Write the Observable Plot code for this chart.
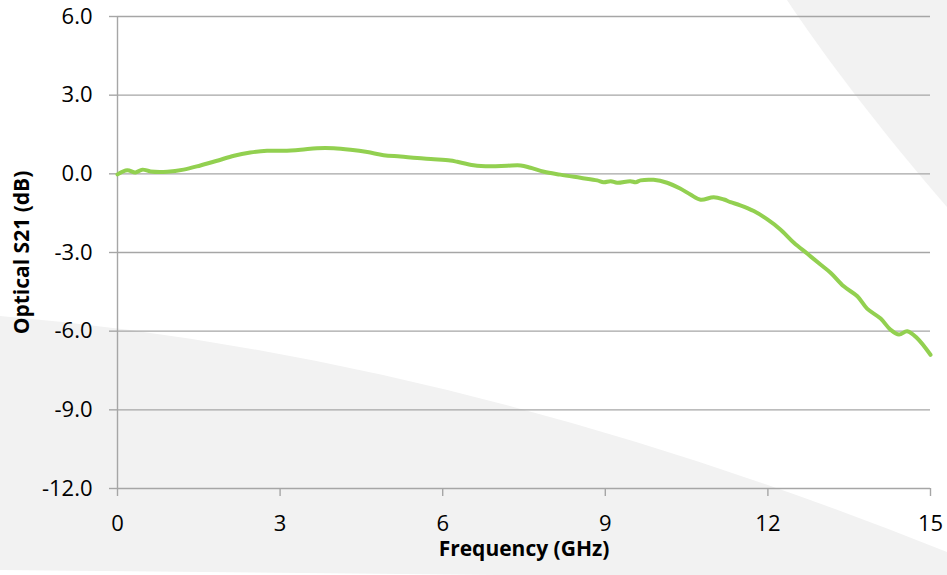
<!DOCTYPE html>
<html>
<head>
<meta charset="utf-8">
<script src="https://cdn.jsdelivr.net/npm/d3@7"></script>
<script src="https://cdn.jsdelivr.net/npm/@observablehq/plot@0.6"></script>
<style>
  html, body { margin: 0; padding: 0; background: #ffffff; }
  #wrap { position: relative; width: 947px; height: 575px; overflow: hidden; }
  #bg { position: absolute; left: 0; top: 0; }
  #chart { position: absolute; left: 0; top: 0; }
</style>
</head>
<body>
<div id="wrap">
  <svg id="bg" width="947" height="575" xmlns="http://www.w3.org/2000/svg">
    <path d="M787,0 C820,50 880,130 947,207 L947,0 Z" fill="#f2f2f2"/>
    <path d="M0,316 Q453,354 947,552 L947,575 L500,575 L0,570 Z" fill="#f2f2f2"/>
  </svg>
  <div id="chart"></div>
</div>
<script>
// Frequency (GHz)
const freq = [0, 0.18, 0.33, 0.46, 0.61, 0.92, 1.22, 1.53, 1.84, 2.15, 2.45, 2.76, 3.06, 3.38, 3.68, 3.99,
  4.30, 4.61, 4.91, 5.22, 5.53, 5.84, 6.14, 6.27, 6.57, 6.88, 7.19, 7.44, 7.62, 7.87, 8.17, 8.54, 8.85,
  8.97, 9.10, 9.22, 9.46, 9.56, 9.65, 9.89, 10.14, 10.38, 10.57, 10.76, 11.0, 11.19, 11.31, 11.49, 11.74,
  11.99, 12.23, 12.48, 12.73, 12.97, 13.16, 13.40, 13.65, 13.83, 14.08, 14.26, 14.42, 14.57, 14.75, 15.0];
// Optical S21 (dB)
const s21 = [-0.02, 0.14, 0.05, 0.16, 0.09, 0.08, 0.16, 0.32, 0.50, 0.69, 0.81, 0.88, 0.88, 0.92, 0.98, 0.98,
  0.92, 0.83, 0.71, 0.66, 0.60, 0.56, 0.51, 0.46, 0.33, 0.29, 0.31, 0.32, 0.23, 0.08, -0.03, -0.15, -0.25,
  -0.32, -0.28, -0.34, -0.28, -0.32, -0.25, -0.23, -0.34, -0.56, -0.79, -0.99, -0.89, -0.98, -1.08, -1.20, -1.42,
  -1.74, -2.12, -2.63, -3.05, -3.46, -3.78, -4.29, -4.67, -5.14, -5.52, -5.94, -6.13, -6.00, -6.26, -6.90];
const xTicks = [0, 3, 6, 9, 12, 15];
const yTicks = [-12, -9, -6, -3, 0, 3, 6];
const xTitle = "Frequency (GHz)";
const yTitle = "Optical S21 (dB)";

const data = freq.map((f, i) => ({f, v: s21[i]}));
const gridColor = "#a6a6a6";

const chart = Plot.plot({
  width: 947,
  height: 575,
  marginLeft: 117,
  marginRight: 17,
  marginTop: 16,
  marginBottom: 87,
  style: {background: "transparent", fontFamily: "'Open Sans', sans-serif", color: "#000"},
  x: {domain: [0, 15]},
  y: {domain: [-12, 6]},
  marks: [
    Plot.ruleY(yTicks, {stroke: gridColor, strokeWidth: 1.4}),
    Plot.ruleX([0], {stroke: gridColor, strokeWidth: 1.4}),
    Plot.axisY(yTicks, {tickSize: 8, tickPadding: 17, tickFormat: d => d.toFixed(1), fontSize: 22,
      stroke: gridColor, strokeWidth: 1.4, fill: "#000", label: null}),
    Plot.axisX(xTicks, {tickSize: 8, tickPadding: 19, tickFormat: d => String(d), fontSize: 22,
      stroke: gridColor, strokeWidth: 1.4, fill: "#000", label: null}),
    Plot.line(data, {x: "f", y: "v", stroke: "#92d050", strokeWidth: 4, curve: "catmull-rom"}),
    Plot.text([xTitle], {frameAnchor: "bottom", textAnchor: "middle", dy: 67, fontSize: 21, fontWeight: "bold", fill: "#000"}),
    Plot.text([yTitle], {frameAnchor: "left", textAnchor: "middle", dx: -95, rotate: -90, fontSize: 21, fontWeight: "bold", fill: "#000"})
  ]
});
document.getElementById("chart").appendChild(chart);
</script>
</body>
</html>
